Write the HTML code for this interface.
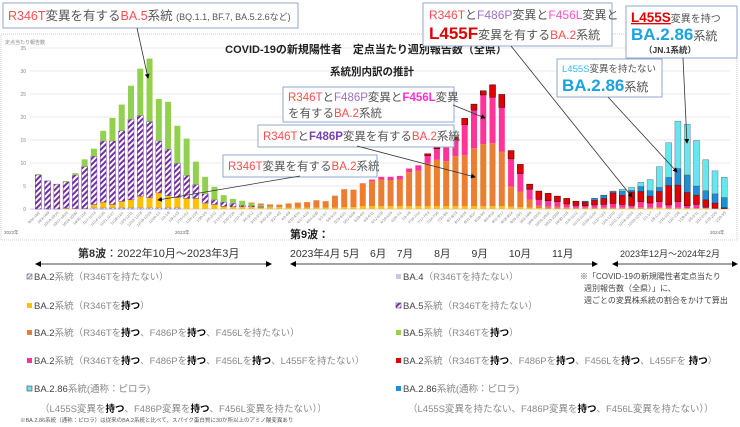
<!DOCTYPE html>
<html><head><meta charset="utf-8">
<style>
html,body{margin:0;padding:0;background:#fff;}
svg{display:block;font-family:"Liberation Sans","Noto Sans CJK JP",sans-serif;}
</style></head>
<body>
<svg id="chart" width="740" height="427" viewBox="0 0 740 427" xmlns="http://www.w3.org/2000/svg">
<defs>
<pattern id="hatch" width="4" height="4" patternUnits="userSpaceOnUse" patternTransform="rotate(45)">
<rect width="4" height="4" fill="#fff"/><rect width="2" height="4" fill="#7030a0"/>
</pattern>
<pattern id="hatchL" width="3" height="3" patternUnits="userSpaceOnUse" patternTransform="rotate(45)">
<rect width="3" height="3" fill="#fff"/><rect width="1.5" height="3" fill="#a89ccc"/>
</pattern>
<marker id="ah" markerWidth="6" markerHeight="6" refX="5" refY="3" orient="auto"><path d="M0,0 L6,3 L0,6 z" fill="#000"/></marker>
<marker id="ah2" markerWidth="6" markerHeight="6" refX="1" refY="3" orient="auto"><path d="M6,0 L0,3 L6,6 z" fill="#000"/></marker>
</defs>
<rect x="1" y="34" width="736" height="206" fill="#fff" stroke="#ccc" stroke-dasharray="1,1"/>
<text x="5" y="44" font-size="5" fill="#888">定点当たり報告数</text>
<g id="grid"></g>
<g id="bars"></g>
<g id="xlabels"></g>
<text x="4" y="234" font-size="4.5" fill="#666">2022年</text>
<text x="175" y="234" font-size="4.5" fill="#666">2023年</text>
<text x="710" y="234" font-size="4.5" fill="#666">2024年</text>

<text x="366" y="53" font-size="11" font-weight="bold" text-anchor="middle" fill="#222">COVID-19の新規陽性者　定点当たり週別報告数（全県）</text>
<text x="372" y="75" font-size="10.5" font-weight="bold" text-anchor="middle" fill="#222">系統別内訳の推計</text>

<!-- annotation boxes -->
<g>
<rect x="3" y="3" width="295" height="25" fill="#fff" stroke="#8fa9d0"/>
<text x="8" y="20" font-size="12.5" fill="#555"><tspan fill="#ff4d4d">R346T</tspan>変異を有する<tspan fill="#ff4d4d">BA.5</tspan>系統 <tspan font-size="9">(BQ.1.1, BF.7, BA.5.2.6など)</tspan></text>
</g>
<g>
<rect x="423" y="3" width="189" height="43" fill="#fff" stroke="#8fa9d0"/>
<text x="429" y="19" font-size="12" fill="#555"><tspan fill="#ff4d4d">R346T</tspan>と<tspan fill="#a070c8">F486P</tspan>変異と<tspan fill="#ff55cc">F456L</tspan>変異と</text>
<text x="429" y="39" font-size="12" fill="#555"><tspan fill="#e00000" font-size="17" font-weight="bold">L455F</tspan>変異を有する<tspan fill="#ff4d4d">BA.2</tspan>系統</text>
</g>
<g>
<rect x="626" y="6" width="111" height="52" fill="#fff" stroke="#8fa9d0"/>
<text x="631" y="22" font-size="10" fill="#555"><tspan fill="#e00000" font-size="13.5" font-weight="bold" text-decoration="underline">L455S</tspan>変異を持つ</text>
<text x="631" y="40" font-size="12" fill="#555"><tspan fill="#1aa3e0" font-size="17" font-weight="bold">BA.2.86</tspan>系統</text>
<text x="644" y="53" font-size="8.5" font-weight="bold" fill="#333">（JN.1系統）</text>
</g>
<g>
<rect x="557" y="59" width="105" height="38" fill="#fff" stroke="#8fa9d0"/>
<text x="562" y="72" font-size="9.5" fill="#555"><tspan fill="#33bbee">L455S</tspan>変異を持たない</text>
<text x="562" y="91" font-size="12" fill="#555"><tspan fill="#1aa3e0" font-size="17" font-weight="bold">BA.2.86</tspan>系統</text>
</g>
<g>
<rect x="283" y="87" width="171" height="35" fill="#fff" stroke="#8fa9d0"/>
<text x="288" y="101" font-size="11.5" fill="#555"><tspan fill="#ff4d4d">R346T</tspan>と<tspan fill="#a070c8">F486P</tspan>変異と<tspan fill="#ff33cc" font-weight="bold">F456L</tspan>変異</text>
<text x="288" y="117" font-size="11.5" fill="#555">を有する<tspan fill="#ff4d4d">BA.2</tspan>系統</text>
</g>
<g>
<rect x="258" y="125" width="196" height="22" fill="#fff" stroke="#8fa9d0"/>
<text x="263" y="140" font-size="11.5" fill="#555"><tspan fill="#ff4d4d">R346T</tspan>と<tspan fill="#7a3fb0" font-weight="bold">F486P</tspan>変異を有する<tspan fill="#ff4d4d">BA.2</tspan>系統</text>
</g>
<g>
<rect x="223" y="155" width="154" height="22" fill="#fff" stroke="#8fa9d0"/>
<text x="228" y="170" font-size="11.5" fill="#555"><tspan fill="#ff4d4d">R346T</tspan>変異を有する<tspan fill="#ff4d4d">BA.2</tspan>系統</text>
</g>
<g stroke="#333" stroke-width="0.8" fill="none">
<line x1="137" y1="28" x2="148" y2="78" marker-end="url(#ah)"/>
<line x1="511" y1="46" x2="632" y2="197" marker-end="url(#ah)"/>
<line x1="608" y1="97" x2="677" y2="172" marker-end="url(#ah)"/>
<line x1="683" y1="58" x2="687" y2="143" marker-end="url(#ah)"/>
<line x1="453" y1="105" x2="485" y2="118" marker-end="url(#ah)"/>
<line x1="357" y1="146" x2="475" y2="177" marker-end="url(#ah)"/>
<line x1="300" y1="176" x2="158" y2="200" marker-end="url(#ah)"/>
</g>

<!-- wave headers -->
<text x="290" y="238" font-size="11" font-weight="bold" fill="#222">第9波：</text>
<text x="78" y="257" font-size="11" fill="#333"><tspan font-weight="bold">第8波</tspan>：2022年10月～2023年3月</text>
<text x="290" y="257" font-size="10.5" fill="#333" xml:space="preserve">2023年4月 5月　6月　7月　　8月　　9月　　10月　　11月</text>
<text x="620" y="257" font-size="9" fill="#333">2023年12月～2024年2月</text>
<g stroke="#444" stroke-width="1">
<line x1="36" y1="264" x2="271" y2="264" marker-end="url(#ah)" marker-start="url(#ah2)"/>
<line x1="291" y1="264" x2="597" y2="264" marker-end="url(#ah)" marker-start="url(#ah2)"/>
<line x1="613" y1="264" x2="737" y2="264" marker-end="url(#ah)" marker-start="url(#ah2)"/>
</g>

<!-- legend -->
<g font-size="9.5" fill="#888">
<g><rect x="27" y="274" width="5" height="5" fill="url(#hatchL)" stroke="#666" stroke-width="0.6"/><text x="34" y="280"><tspan fill="#444">BA.2</tspan>系統（R346Tを持たない）</text></g>
<g><rect x="27" y="303" width="5" height="5" fill="#ffc000"/><text x="34" y="309"><tspan fill="#444">BA.2</tspan>系統（R346Tを<tspan fill="#000" font-weight="bold">持つ</tspan>）</text></g>
<g><rect x="27" y="330" width="5" height="5" fill="#ed7d31"/><text x="34" y="336"><tspan fill="#444">BA.2</tspan>系統（R346Tを<tspan fill="#000" font-weight="bold">持つ</tspan>、F486Pを<tspan fill="#000" font-weight="bold">持つ</tspan>、F456Lを持たない）</text></g>
<g><rect x="27" y="358" width="5" height="5" fill="#ff3399"/><text x="34" y="364"><tspan fill="#444">BA.2</tspan>系統（R346Tを<tspan fill="#000" font-weight="bold">持つ</tspan>、F486Pを<tspan fill="#000" font-weight="bold">持つ</tspan>、F456Lを<tspan fill="#000" font-weight="bold">持つ</tspan>、L455Fを持たない）</text></g>
<g><rect x="27" y="386" width="5" height="5" fill="#66e6f0" stroke="#444" stroke-width="0.6"/><text x="34" y="392"><tspan fill="#444">BA.2.86</tspan>系統(通称：ピロラ)</text></g>
<text x="40" y="412">（L455S変異を<tspan fill="#000" font-weight="bold">持つ</tspan>、F486P変異を<tspan fill="#000" font-weight="bold">持つ</tspan>、F456L変異を持たない））</text>
<text x="20" y="422" font-size="5.5" fill="#555">※BA.2.86系統（通称：ピロラ）は従来のBA.2系統と比べて、スパイク蛋白質に30か所以上のアミノ酸変異あり</text>
<g><rect x="396" y="274" width="5" height="5" fill="#ccc6e6"/><text x="403" y="280"><tspan fill="#444">BA.4</tspan>（R346Tを持たない）</text></g>
<g><rect x="396" y="303" width="5" height="5" fill="url(#hatch)" stroke="#7030a0" stroke-width="0.6"/><text x="403" y="309"><tspan fill="#444">BA.5</tspan>系統（R346Tを持たない）</text></g>
<g><rect x="396" y="330" width="5" height="5" fill="#92d050"/><text x="403" y="336"><tspan fill="#444">BA.5</tspan>系統（R346Tを<tspan fill="#000" font-weight="bold">持つ</tspan>）</text></g>
<g><rect x="396" y="358" width="5" height="5" fill="#e00000"/><text x="403" y="364"><tspan fill="#444">BA.2</tspan>系統（R346Tを<tspan fill="#000" font-weight="bold">持つ</tspan>、F486Pを<tspan fill="#000" font-weight="bold">持つ</tspan>、F456Lを<tspan fill="#000" font-weight="bold">持つ</tspan>、L455Fを <tspan fill="#000" font-weight="bold">持つ</tspan>）</text></g>
<g><rect x="396" y="386" width="5" height="5" fill="#1d8fd6"/><text x="403" y="392"><tspan fill="#444">BA.2.86</tspan>系統(通称：ピロラ)</text></g>
<text x="408" y="412">（L455S変異を持たない、F486P変異を<tspan fill="#000" font-weight="bold">持つ</tspan>、F456L変異を持たない））</text>
</g>
<g font-size="8" fill="#444">
<text x="580" y="279">※「COVID-19の新規陽性者定点当たり</text>
<text x="584" y="291">週別報告数（全県）」に、</text>
<text x="584" y="303">週ごとの変異株系統の割合をかけて算出</text>
</g>
</svg>
<script>
const yTicks = [0,5,10,15,20,25,30,35];
const ba4 = Array(75).fill(0);
const ba2NoR346T = [0,0,0,0,0,0,.3,.3,.3,.3,.3,.3,.3,.3,.3,.3,0,0,0,0,0,0,0,0,0,0,0,0,0,0,0,0,0,0,0,0,0,0,0,0,0,0,0,0,0,0,0,0,0,0,0,0,0,0,0,0,0,0,0,0,0,0,0,0,0,0,0,0,0,0,0,0,0,0,0];
const ba2R346T = [0,0,0,.2,.1,.1,.7,1.2,.7,1.4,1.7,2.5,2.2,3.2,2.6,2.2,2.3,2.3,1.3,1.0,.6,.5,.5,.5,.4,.3,.3,.3,.3,.3,.3,.3,.3,.4,.4,.6,.6,.6,.6,.6,.6,.6,.6,.6,.6,.6,.6,.6,.6,.6,.6,.5,.4,.3,.2,.1,.1,.1,.1,.1,.1,.1,.1,.1,.1,.1,.1,.2,.1,.1,.1,.1,.1,0,0];
const ba5NoR346T = [7.4,6.1,5.4,5.7,7.3,9.1,10.5,13.3,13.8,15.3,17.5,17.5,16.5,11.3,10.1,7.4,5.0,3.0,2.0,1.0,.9,.7,.3,.2,.1,0,0,0,0,0,0,0,0,0,0,0,0,0,0,0,0,0,0,0,0,0,0,0,0,0,0,0,0,0,0,0,0,0,0,0,0,0,0,0,0,0,0,0,0,0,0,0,0,0,0];
const ba5R346T = [.2,0,0,.2,.4,1.6,1.6,2.2,5.0,5.7,7.3,10.2,13.7,9.1,10.3,8.2,8.0,5.0,3.7,2.8,1.5,1.0,1.0,.5,.3,.2,.1,0,0,0,0,0,0,0,0,0,0,0,0,0,0,0,0,0,0,0,0,0,0,0,0,0,0,0,0,0,0,0,0,0,0,0,0,0,0,0,0,0,0,0,0,0,0,0,0];
const ba2F486P = [0,0,0,0,0,0,0,0,0,0,0,0,0,0,0,0,0,0,0,0,0,0,0,.2,.4,.5,.55,.9,1.1,1.2,1.6,1.4,2.6,3.9,3.8,4.9,5.5,5.8,5.7,5.8,7.4,7.7,9.3,10.1,9.8,10.9,11.1,12.6,13.5,13.7,11.9,4.4,3.4,1.7,.5,.4,.4,.3,.2,.2,.2,.2,.2,.2,.2,.3,.2,.2,.2,.2,.1,.1,.1,.1,.1];
const ba2F456L = [0,0,0,0,0,0,0,0,0,0,0,0,0,0,0,0,0,0,0,0,0,0,0,0,0,0,0,0,0,0,0,0,0,0,0,.1,.3,.6,.7,.8,.8,1.2,1.7,2.4,3.2,3.6,6.6,8.3,10.7,10.0,9.6,6.0,3.9,2.3,1.4,1.3,1.1,.7,.5,.4,.6,.7,.9,.7,.5,1.2,1.0,1.2,.6,1.3,.5,.8,.2,.1,0];
const ba2L455F = [0,0,0,0,0,0,0,0,0,0,0,0,0,0,0,0,0,0,0,0,0,0,0,0,0,0,0,0,0,0,0,0,0,0,0,0,0,0,0,0,0,0,.4,.3,.3,.6,1.4,1.3,.9,2.7,2.8,1.8,2.0,1.1,1.8,1.6,1.2,1.2,.9,.8,1.0,1.3,2.3,2.0,2.9,2.2,1.5,2.2,4.2,3.6,2.9,2.0,1.6,1.1,.2];
const ba286NoL455S = [0,0,0,0,0,0,0,0,0,0,0,0,0,0,0,0,0,0,0,0,0,0,0,0,0,0,0,0,0,0,0,0,0,0,0,0,0,0,0,0,0,0,0,0,0,0,0,0,0,0,0,0,0,0,0,0,0,0,0,.2,.4,.7,.3,.9,.4,1.1,1.2,.9,1.8,3.6,3.8,2.0,2.0,2.0,2.2];
const ba286JN1 = [0,0,0,0,0,0,0,0,0,0,0,0,0,0,0,0,0,0,0,0,0,0,0,0,0,0,0,0,0,0,0,0,0,0,0,0,0,0,0,0,0,0,0,0,0,0,0,0,0,0,0,0,0,0,0,0,0,0,0,0,0,0,.1,.4,.6,.9,2.4,4.5,7.5,10.3,11.0,9.9,6.7,5.0,4.4];

const weekStarts = [];
(function(){const d=new Date(2022,8,26);for(let i=0;i<75;i++){const s=new Date(d.getTime()+i*7*864e5);const e=new Date(s.getTime()+6*864e5);weekStarts.push((s.getMonth()+1)+'/'+s.getDate()+'-'+(e.getMonth()+1)+'/'+e.getDate());}})();

const series = [
 {name:'ba2-no-r346t', vals:ba2NoR346T, fill:'url(#hatchL)', stroke:'#8878b8'},
 {name:'ba4', vals:ba4, fill:'#ccc6e6', stroke:'none'},
 {name:'ba2-r346t', vals:ba2R346T, fill:'#ffc000', stroke:'none'},
 {name:'ba5-no-r346t', vals:ba5NoR346T, fill:'url(#hatch)', stroke:'#7030a0'},
 {name:'ba5-r346t', vals:ba5R346T, fill:'#92d050', stroke:'none'},
 {name:'ba2-f486p', vals:ba2F486P, fill:'#ed7d31', stroke:'none'},
 {name:'ba2-f456l', vals:ba2F456L, fill:'#ff3399', stroke:'none'},
 {name:'ba2-l455f', vals:ba2L455F, fill:'#e00000', stroke:'#400000'},
 {name:'ba286-no-l455s', vals:ba286NoL455S, fill:'#1d8fd6', stroke:'#335'},
 {name:'ba286-jn1', vals:ba286JN1, fill:'#66e6f0', stroke:'#777'}
];
const NS='http://www.w3.org/2000/svg';
const y0=209, yTop=48, yMax=35;
function yScale(v){return y0-(v/yMax)*(y0-yTop);}
function xScale(i){return 38.3+i*9.27;}
const grid=document.getElementById('grid');
yTicks.forEach(t=>{
 const l=document.createElementNS(NS,'line');
 l.setAttribute('x1',30);l.setAttribute('x2',730);l.setAttribute('y1',yScale(t));l.setAttribute('y2',yScale(t));
 l.setAttribute('stroke',t===0?'#bbb':'#e2e2e2');l.setAttribute('stroke-width','0.8');
 
 
 grid.appendChild(l);
 const tx=document.createElementNS(NS,'text');
 tx.setAttribute('x',26);tx.setAttribute('y',yScale(t)+2);tx.setAttribute('font-size','5');tx.setAttribute('fill','#888');tx.setAttribute('text-anchor','end');
 tx.textContent=t;
 
 
 grid.appendChild(tx);
});
const bars=document.getElementById('bars');
const xl=document.getElementById('xlabels');
const bw=6;
weekStarts.forEach((lab,i)=>{
 let acc=0;
 const cx=xScale(i);
 series.forEach(s=>{
  const v=s.vals[i];
  if(!v) return;
  const r=document.createElementNS(NS,'rect');
  r.setAttribute('x',cx-bw/2);r.setAttribute('width',bw);
  r.setAttribute('y',yScale(acc+v));r.setAttribute('height',yScale(acc)-yScale(acc+v));
  r.setAttribute('fill',s.fill);
  if(s.stroke!=='none'){r.setAttribute('stroke',s.stroke);r.setAttribute('stroke-width','0.5');}
  
  
  bars.appendChild(r);
  acc+=v;
 });
 const t=document.createElementNS(NS,'text');
 t.setAttribute('font-size','3.6');t.setAttribute('fill','#777');t.setAttribute('text-anchor','end');
 t.setAttribute('transform','translate('+(cx+2)+',213) rotate(-45)');
 t.textContent=lab;
 
 
 xl.appendChild(t);
});
</script>
</body></html>
